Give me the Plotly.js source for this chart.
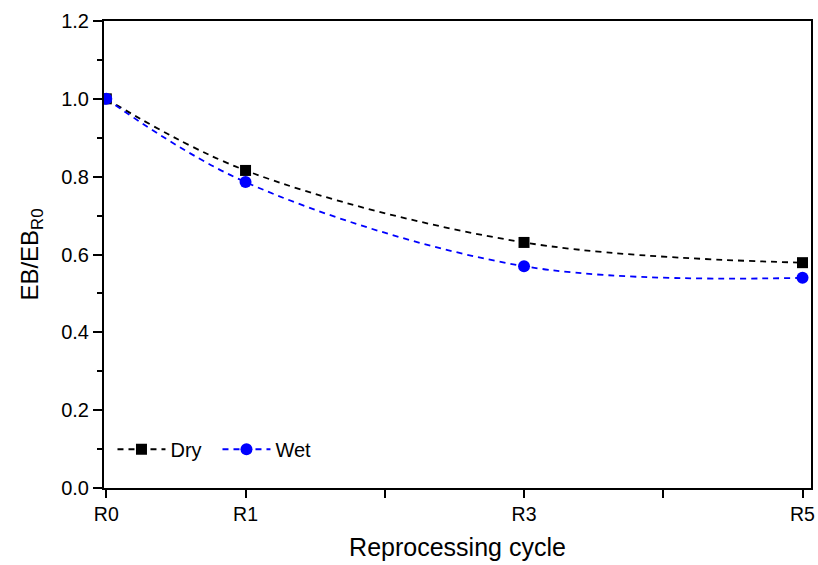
<!DOCTYPE html>
<html><head><meta charset="utf-8">
<script src="https://cdn.plot.ly/plotly-3.0.1.min.js"></script>
<style>body{margin:0;padding:0;background:#fff}#c{width:818px;height:565px}</style>
</head><body><div id="c"></div>
<script>
const cycles = [0, 1, 3, 5];
const tickVals = [0, 1, 3, 5];
const tickLabels = ['R0', 'R1', 'R3', 'R5'];
const dry = [1.0, 0.816, 0.631, 0.579];
const wet = [1.0, 0.786, 0.570, 0.540];

const font = 'Liberation Sans, Arial, sans-serif';
const traces = [
  {x: cycles, y: dry, name: 'Dry', mode: 'lines+markers',
   line: {shape: 'spline', dash: '6px,5px', color: '#000000', width: 1.8},
   marker: {symbol: 'square', size: 11, color: '#000000'}},
  {x: cycles, y: wet, name: 'Wet', mode: 'lines+markers',
   line: {shape: 'spline', dash: '6px,5px', color: '#0000ff', width: 1.8},
   marker: {symbol: 'circle', size: 12, color: '#0000ff'}}
];
const layout = {
  width: 818, height: 565,
  margin: {l: 104, r: 6.5, t: 20.5, b: 77},
  paper_bgcolor: '#fff', plot_bgcolor: '#fff',
  font: {family: font, color: '#000000', size: 20},
  showlegend: true,
  legend: {x: 0.012, y: 0.083, xanchor: 'left', yanchor: 'middle', orientation: 'h',
           itemwidth: 48, entrywidth: 42, entrywidthmode: 'pixels',
           bgcolor: 'rgba(0,0,0,0)', font: {family: font, size: 20, color: '#000000'}},
  xaxis: {range: [-0.0165, 5.061], tickvals: tickVals, ticktext: tickLabels,
          ticklabeloverflow: 'allow',
          tickfont: {family: font, size: 19.5, color: '#000000'},
          showgrid: false, zeroline: false, showline: true, linecolor: '#000', linewidth: 2,
          mirror: true, ticks: 'outside', ticklen: 8, tickwidth: 2, tickcolor: '#000',
          minor: {dtick: 1, tick0: 0, ticks: 'outside', ticklen: 8, tickwidth: 2, tickcolor: '#000'},
          title: {text: 'Reprocessing cycle', font: {family: font, size: 25, color: '#000000'}, standoff: 14}},
  yaxis: {range: [0, 1.2], dtick: 0.2, tickformat: '.1f',
          tickfont: {family: font, size: 20, color: '#000000'},
          showgrid: false, zeroline: false, showline: true, linecolor: '#000', linewidth: 2,
          mirror: true, ticks: 'outside', ticklen: 9, tickwidth: 2, tickcolor: '#000',
          minor: {dtick: 0.1, ticks: 'outside', ticklen: 5, tickwidth: 2, tickcolor: '#000'},
          title: {text: 'EB/EB<sub>R0</sub>', font: {family: font, size: 24, color: '#000000'}, standoff: 16}}
};
Plotly.newPlot('c', traces, layout, {displayModeBar: false, staticPlot: true});
</script>
</body></html>
